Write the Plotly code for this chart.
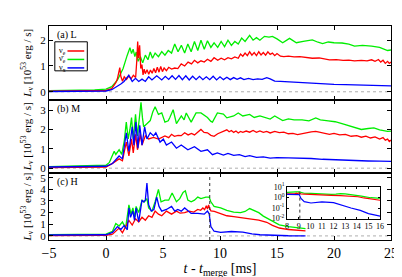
import plotly.graph_objects as go
from plotly.subplots import make_subplots

# ---------------- data ----------------
# Panel (a) L
a_green_t = [-5, -3, -1, 0, 0.5, 1.0, 1.5, 1.85, 2.1, 2.24, 2.38, 2.53, 2.65, 2.82, 3.02, 3.22, 3.45, 3.68, 3.88, 4.08, 4.31, 4.6, 4.89, 5.17, 5.46, 5.75, 6.03, 6.32, 6.61, 6.9, 7.18, 7.47, 7.76, 8.05, 8.33, 8.62, 8.9, 9.2, 9.48, 9.8, 10.1, 10.4, 10.7, 11.0, 11.3, 11.6, 11.9, 12.2, 12.6, 12.9, 13.2, 13.5, 13.9, 14.3, 14.6, 15.0, 15.5, 16.1, 16.7, 17.3, 18.1, 18.6, 19.0, 19.5, 20.0, 20.7, 21.3, 21.8, 22.5, 23.3, 24.0, 24.7, 25.0]
a_green_v = [0.04, 0.05, 0.07, 0.1, 0.2, 0.45, 0.9, 1.4, 1.71, 1.48, 1.65, 1.36, 1.54, 1.18, 1.36, 1.12, 1.42, 1.24, 1.54, 1.3, 1.5, 1.36, 1.56, 1.42, 1.6, 1.5, 1.85, 1.55, 1.8, 1.5, 1.85, 1.55, 1.95, 1.6, 2.0, 1.65, 1.98, 1.72, 1.9, 1.72, 1.95, 1.75, 2.0, 1.8, 1.95, 1.85, 2.08, 1.95, 2.19, 2.0, 2.1, 2.0, 2.15, 2.12, 2.15, 2.05, 1.9, 2.07, 1.9, 1.95, 2.01, 1.92, 1.87, 1.93, 1.9, 1.89, 1.85, 1.77, 1.8, 1.77, 1.72, 1.6, 1.62]

a_red_t = [-5, -2, 0, 0.5, 0.86, 1.0, 1.1, 1.21, 1.3, 1.45, 1.6, 1.8, 2.0, 2.2, 2.4, 2.6, 2.7, 2.78, 2.85, 2.95, 3.05, 3.15, 3.25, 3.35, 3.45, 3.6, 3.75, 3.9, 4.05, 4.2, 4.35, 4.5, 4.65, 4.8, 4.95, 5.1, 5.3, 5.5, 5.75, 6.03, 6.3, 6.6, 6.9, 7.2, 7.5, 7.76, 8.05, 8.33, 8.62, 8.9, 9.2, 9.48, 9.8, 10.1, 10.4, 10.7, 11.0, 11.3, 11.6, 11.8, 12.0, 12.2, 12.4, 12.6, 12.8, 13.0, 13.2, 13.4, 13.6, 13.8, 14.0, 14.2, 14.4, 14.6, 14.8, 15.0, 15.3, 15.6, 16.0, 16.5, 17.0, 17.5, 18.1, 18.7, 19.2, 19.6, 20.2, 20.8, 21.3, 21.8, 22.4, 22.9, 23.3, 23.6, 23.9, 24.1, 24.3, 24.5, 24.7, 24.85, 25.0]
a_red_v = [0.02, 0.03, 0.05, 0.12, 0.35, 0.5, 0.75, 0.94, 0.6, 0.41, 0.58, 0.48, 0.62, 0.5, 0.64, 0.55, 1.2, 1.95, 1.3, 1.8, 0.9, 1.05, 0.65, 0.88, 0.7, 0.85, 0.68, 0.84, 0.72, 0.9, 0.74, 0.95, 0.76, 0.98, 0.78, 0.92, 0.82, 0.95, 0.88, 0.92, 0.9, 1.08, 1.0, 1.15, 1.08, 1.22, 1.12, 1.2, 1.15, 1.26, 1.18, 1.32, 1.22, 1.3, 1.24, 1.32, 1.28, 1.35, 1.3, 1.46, 1.38, 1.5, 1.4, 1.55, 1.42, 1.52, 1.4, 1.55, 1.43, 1.52, 1.42, 1.55, 1.45, 1.5, 1.4, 1.48, 1.38, 1.36, 1.38, 1.35, 1.36, 1.33, 1.3, 1.31, 1.27, 1.24, 1.25, 1.22, 1.23, 1.2, 1.22, 1.2, 1.24, 1.18, 1.25, 1.15, 1.22, 1.1, 1.18, 1.1, 1.15]

a_blue_t = [-5, 0, 0.5, 1.0, 1.3, 1.58, 1.8, 2.0, 2.3, 2.59, 2.87, 3.16, 3.45, 3.74, 4.03, 4.45, 4.89, 5.2, 5.5, 5.8, 6.1, 6.4, 6.7, 7.0, 7.3, 7.6, 7.9, 8.2, 8.5, 8.8, 9.1, 9.4, 9.7, 10.0, 10.3, 10.6, 10.9, 11.2, 11.5, 11.8, 12.1, 12.5, 12.9, 13.3, 13.7, 14.1, 14.4, 14.8, 15.3, 16.0, 17.0, 18.0, 19.0, 20.0, 21.0, 22.0, 23.0, 24.0, 25.0]
a_blue_v = [0.01, 0.03, 0.08, 0.2, 0.3, 0.4, 0.55, 0.64, 0.4, 0.52, 0.4, 0.49, 0.4, 0.58, 0.46, 0.62, 0.46, 0.6, 0.48, 0.62, 0.48, 0.63, 0.47, 0.62, 0.46, 0.6, 0.47, 0.6, 0.47, 0.58, 0.47, 0.6, 0.46, 0.58, 0.47, 0.56, 0.47, 0.55, 0.48, 0.54, 0.47, 0.52, 0.47, 0.5, 0.48, 0.55, 0.5, 0.41, 0.4, 0.38, 0.36, 0.33, 0.31, 0.29, 0.28, 0.27, 0.25, 0.24, 0.23]

# Panel (b) M
b_green_t = [-5, -2, 0, 0.3, 0.72, 0.86, 1.15, 1.38, 1.6, 1.78, 1.95, 2.1, 2.24, 2.39, 2.59, 2.76, 2.9, 3.07, 3.2, 3.3, 3.59, 3.88, 4.1, 4.31, 4.6, 4.89, 5.17, 5.46, 5.6, 5.89, 6.18, 6.61, 6.85, 7.04, 7.47, 7.9, 8.33, 8.9, 9.2, 9.34, 9.77, 10.3, 10.6, 11.2, 11.6, 12.0, 12.6, 13.0, 13.5, 14.0, 14.4, 14.8, 15.5, 16.0, 16.5, 17.2, 17.8, 18.4, 18.8, 19.5, 20.1, 20.7, 21.3, 22.0, 22.4, 23.0, 23.5, 24.0, 24.7, 25.0]
b_green_v = [0.08, 0.1, 0.15, 0.3, 0.87, 0.71, 0.95, 0.71, 1.4, 2.38, 1.51, 2.0, 2.62, 1.51, 2.78, 1.67, 2.6, 3.41, 2.6, 2.14, 2.3, 2.46, 2.9, 3.17, 2.78, 2.86, 2.38, 2.45, 2.62, 3.02, 2.3, 2.7, 2.5, 2.85, 2.38, 2.86, 2.86, 2.62, 2.42, 2.38, 2.86, 2.8, 2.6, 2.7, 2.85, 2.7, 2.78, 2.62, 2.7, 2.62, 2.54, 2.7, 2.46, 2.55, 2.5, 2.5, 2.45, 2.6, 2.5, 2.45, 2.4, 2.3, 2.2, 2.05, 2.0, 2.05, 2.08, 1.98, 1.9, 1.92]

b_red_t = [-5, 0, 0.57, 0.9, 1.15, 1.44, 1.6, 1.78, 2.01, 2.24, 2.39, 2.59, 2.76, 3.02, 3.16, 3.45, 3.74, 4.17, 4.6, 5.17, 5.5, 5.75, 6.0, 6.32, 6.6, 6.9, 7.2, 7.5, 7.76, 8.0, 8.33, 8.6, 8.9, 9.2, 9.48, 9.8, 10.1, 10.4, 10.6, 10.8, 11.0, 11.2, 11.4, 11.6, 11.8, 12.0, 12.3, 12.6, 12.9, 13.2, 13.5, 13.8, 14.1, 14.4, 14.8, 15.2, 15.6, 16.0, 16.4, 16.8, 17.2, 17.6, 18.0, 18.4, 18.8, 19.2, 19.6, 20.0, 20.5, 21.0, 21.5, 22.0, 22.4, 22.8, 23.2, 23.6, 24.0, 24.3, 24.5, 24.7, 24.85, 25.0]
b_red_v = [0.03, 0.06, 0.25, 0.4, 0.48, 0.38, 0.8, 1.35, 0.63, 1.51, 0.79, 1.75, 0.95, 1.75, 1.19, 1.67, 1.51, 1.59, 1.5, 1.67, 1.58, 1.75, 1.65, 1.7, 1.68, 1.83, 1.72, 1.8, 1.72, 1.85, 2.0, 1.85, 1.83, 1.7, 1.65, 1.78, 1.85, 1.92, 1.98, 1.88, 1.95, 1.85, 1.92, 1.82, 1.9, 1.85, 1.92, 1.86, 1.95, 1.85, 1.93, 1.85, 1.9, 1.82, 1.9, 1.84, 1.86, 1.78, 1.8, 1.74, 1.8, 1.83, 1.88, 1.9, 1.84, 1.8, 1.75, 1.8, 1.72, 1.75, 1.65, 1.68, 1.6, 1.66, 1.56, 1.62, 1.5, 1.58, 1.45, 1.5, 1.38, 1.45]

b_blue_t = [-5, 0, 0.57, 1.0, 1.15, 1.44, 1.6, 1.78, 2.01, 2.3, 2.45, 2.62, 2.8, 2.96, 3.16, 3.39, 3.59, 3.88, 4.17, 4.37, 4.74, 5.03, 5.3, 5.75, 6.18, 6.6, 7.18, 7.76, 8.33, 8.9, 9.34, 9.77, 10.3, 10.7, 11.2, 11.7, 12.2, 12.6, 13.2, 13.8, 14.4, 15.0, 16.0, 17.0, 18.0, 19.0, 20.0, 21.0, 22.0, 23.0, 24.0, 25.0]
b_blue_v = [0.06, 0.1, 0.24, 0.55, 0.63, 0.48, 1.2, 1.83, 0.87, 2.14, 1.19, 2.38, 1.03, 2.22, 1.19, 2.14, 1.51, 1.83, 1.67, 1.83, 1.35, 1.5, 1.19, 1.35, 1.03, 1.2, 0.95, 1.11, 0.87, 0.95, 0.7, 0.79, 0.68, 0.76, 0.66, 0.7, 0.6, 0.65, 0.56, 0.58, 0.52, 0.55, 0.53, 0.52, 0.5, 0.46, 0.43, 0.41, 0.39, 0.37, 0.36, 0.35]

# Panel (c) H
c_green_t = [-5, -2, 0, 0.57, 0.86, 1.15, 1.44, 1.72, 2.01, 2.2, 2.36, 2.53, 2.64, 2.87, 3.16, 3.35, 3.59, 3.74, 4.03, 4.31, 4.6, 4.83, 5.17, 5.5, 5.8, 6.18, 6.47, 6.76, 6.96, 7.18, 7.47, 7.76, 8.05, 8.33, 8.76, 9.05, 9.2, 9.48, 10.06, 10.6, 11.2, 11.8, 12.2, 12.6, 13.0, 13.4, 13.8, 14.4, 15.2, 16.0, 16.8, 17.5]
c_green_v = [0.1, 0.12, 0.15, 0.4, 1.07, 0.85, 1.2, 0.67, 2.67, 1.87, 2.4, 1.6, 2.53, 2.0, 3.07, 2.9, 3.2, 2.4, 2.13, 2.93, 3.99, 2.93, 3.07, 3.07, 3.68, 2.93, 3.2, 3.73, 3.87, 3.07, 2.93, 3.07, 3.33, 3.2, 3.33, 3.33, 2.93, 2.53, 2.4, 2.2, 2.05, 2.0, 2.1, 2.35, 2.2, 2.0, 1.7, 1.35, 0.95, 0.8, 0.68, 0.62]

c_red_t = [-5, 0, 0.57, 0.86, 1.15, 1.44, 1.72, 2.01, 2.3, 2.59, 2.87, 3.16, 3.45, 3.74, 4.03, 4.31, 4.6, 4.89, 5.3, 5.75, 6.18, 6.5, 6.9, 7.3, 7.7, 8.05, 8.3, 8.5, 8.65, 8.8, 8.9, 9.0, 9.1, 9.2, 9.5, 9.77, 10.2, 10.6, 11.2, 11.8, 12.6, 13.4, 14.1, 14.6, 15.2, 16.0, 16.8, 17.5]
c_red_v = [0.03, 0.05, 0.15, 0.4, 0.67, 0.27, 0.8, 1.33, 0.93, 1.47, 1.2, 1.6, 1.35, 1.73, 1.6, 2.13, 1.87, 1.73, 2.13, 1.87, 2.13, 1.95, 2.0, 2.13, 2.05, 2.27, 2.2, 2.4, 2.25, 2.6, 2.3, 2.65, 2.35, 2.15, 2.1, 2.0, 1.85, 1.73, 1.65, 1.6, 1.47, 1.35, 1.17, 0.9, 0.68, 0.55, 0.47, 0.43]

c_blue_t = [-5, 0, 0.57, 1.0, 1.3, 1.6, 1.87, 2.01, 2.15, 2.36, 2.5, 2.64, 2.87, 3.16, 3.3, 3.45, 3.59, 3.74, 3.97, 4.2, 4.45, 4.65, 4.89, 5.3, 5.75, 6.03, 6.3, 6.6, 6.9, 7.18, 7.47, 8.05, 8.62, 8.9, 9.05, 9.2, 9.48, 10.06, 11.0, 12.0, 12.8, 13.5, 14.3, 15.0, 16.0, 17.5]
c_blue_v = [0.08, 0.1, 0.3, 0.8, 0.55, 0.9, 0.53, 2.4, 1.6, 2.13, 1.33, 2.4, 1.2, 3.07, 2.93, 3.07, 4.53, 2.67, 2.13, 2.27, 3.33, 2.53, 2.13, 2.27, 2.53, 2.13, 2.27, 2.13, 2.4, 2.13, 1.93, 1.93, 1.87, 2.13, 1.9, 0.8, 0.4, 0.3, 0.38, 0.33, 0.17, 0.1, 0.06, 0.03, 0.017, 0.01]

t_collapse = 9.1   # dashed vertical marker in panel (c)

x_ticks = [-5, 0, 5, 10, 15, 20, 25]
inset_x_ticks = [8, 9, 10, 11, 12, 13, 14, 15, 16]
inset_y_ticks = [0.01, 0.1, 1, 10]
inset_y_labels = ["10<sup>-2</sup>", "10<sup>-1</sup>", "10<sup>0</sup>", "10<sup>1</sup>"]
panel_labels = ["(a) L", "(b) M", "(c) H"]
legend_labels = ["ν<sub>e</sub>", "ν̄<sub>e</sub>", "ν<sub>x</sub>"]

RED, GREEN, BLUE = "#ff0000", "#00ee00", "#0000ff"
FONT = "Liberation Serif"

fig = make_subplots(rows=3, cols=1, shared_xaxes=True, vertical_spacing=0,
                    row_heights=[79, 79, 72])

panels = [
    (a_red_t, a_red_v, a_green_t, a_green_v, a_blue_t, a_blue_v),
    (b_red_t, b_red_v, b_green_t, b_green_v, b_blue_t, b_blue_v),
    (c_red_t, c_red_v, c_green_t, c_green_v, c_blue_t, c_blue_v),
]
for i, (rt, rv, gt, gv, bt, bv) in enumerate(panels):
    r = i + 1
    fig.add_trace(go.Scatter(x=gt, y=gv, mode="lines", line=dict(color=GREEN, width=1.3), showlegend=False), row=r, col=1)
    fig.add_trace(go.Scatter(x=rt, y=rv, mode="lines", line=dict(color=RED, width=1.3), showlegend=False), row=r, col=1)
    fig.add_trace(go.Scatter(x=bt, y=bv, mode="lines", line=dict(color=BLUE, width=1.3), showlegend=False), row=r, col=1)

# inset (log scale), same data of panel (c)
for t, v, col in [(c_green_t, c_green_v, GREEN), (c_red_t, c_red_v, RED), (c_blue_t, c_blue_v, BLUE)]:
    fig.add_trace(go.Scatter(x=t, y=v, mode="lines", line=dict(color=col, width=1.2),
                             xaxis="x4", yaxis="y4", showlegend=False))

axis_common = dict(showline=True, linecolor="black", linewidth=1, mirror="ticks",
                   ticks="inside", ticklen=4, tickcolor="black", showgrid=False, zeroline=False)

y_ranges = [[-0.3, 2.55], [-0.25, 3.55], [-0.35, 5.4]]
y_dtick = [1, 1, 1]
ytitle = "<i>L</i><sub>ν</sub> [10<sup>53</sup> erg / s]"
for i in range(3):
    r = i + 1
    fig.update_yaxes(range=y_ranges[i], dtick=y_dtick[i], tickfont=dict(size=11, family=FONT, color="black"),
                     title=dict(text=ytitle, font=dict(size=11, family=FONT, color="black"), standoff=6),
                     **axis_common, row=r, col=1)
    fig.update_xaxes(range=[-5, 25], tickvals=x_ticks, **axis_common, row=r, col=1)
fig.update_xaxes(tickfont=dict(size=14, family=FONT, color="black"),
                 title=dict(text="<i>t</i> - <i>t</i><sub>merge</sub> [ms]",
                            font=dict(size=14, family=FONT, color="black"), standoff=2),
                 row=3, col=1)

fig.update_layout(
    xaxis4=dict(domain=[0.696, 0.968], anchor="y4", range=[8, 16], tickvals=inset_x_ticks,
                tickfont=dict(size=8, family=FONT, color="black"), ticklen=2, **{k: v for k, v in axis_common.items() if k != "ticklen"}),
    yaxis4=dict(domain=[0.1, 0.248], anchor="x4", type="log", range=[-2, 1],
                tickvals=inset_y_ticks, ticktext=inset_y_labels,
                tickfont=dict(size=8, family=FONT, color="black"), ticklen=2, **{k: v for k, v in axis_common.items() if k != "ticklen"}),
)

shapes = []
# dotted zero lines
for yref in ["y", "y2", "y3"]:
    xr = "x domain" if yref == "y" else yref.replace("y", "x") + " domain"
    shapes.append(dict(type="line", xref=xr, yref=yref, x0=0, x1=1, y0=0, y1=0,
                       line=dict(color="#999999", width=0.8, dash="dot"), layer="below"))
# collapse markers
shapes.append(dict(type="line", xref="x3", yref="y3 domain", x0=t_collapse, x1=t_collapse, y0=0, y1=1,
                   line=dict(color="#333333", width=1, dash="dot")))
shapes.append(dict(type="line", xref="x4", yref="y4 domain", x0=t_collapse, x1=t_collapse, y0=0, y1=1,
                   line=dict(color="#333333", width=1, dash="dot")))
# custom legend box in panel (a)
shapes.append(dict(type="rect", xref="x domain", yref="y domain", x0=0.017, x1=0.112, y0=0.39, y1=0.785,
                   line=dict(color="black", width=1), fillcolor="white"))
leg_y = [0.66, 0.545, 0.43]
for yy, col in zip(leg_y, [RED, GREEN, BLUE]):
    shapes.append(dict(type="line", xref="x domain", yref="y domain", x0=0.054, x1=0.103, y0=yy, y1=yy,
                       line=dict(color=col, width=1.5)))
# inset background
shapes.append(dict(type="rect", xref="x4 domain", yref="y4 domain", x0=0, x1=1, y0=0, y1=1,
                   line=dict(width=0), fillcolor="white", layer="below"))

annotations = []
for i, lab in enumerate(panel_labels):
    yd = "y domain" if i == 0 else f"y{i+1} domain"
    xd = "x domain" if i == 0 else f"x{i+1} domain"
    annotations.append(dict(text=lab, xref=xd, yref=yd, x=0.018, y=0.98, xanchor="left", yanchor="top",
                            showarrow=False, font=dict(size=10, family=FONT, color="black")))
for yy, lab in zip(leg_y, legend_labels):
    annotations.append(dict(text=lab, xref="x domain", yref="y domain", x=0.024, y=yy, xanchor="left",
                            yanchor="middle", showarrow=False, font=dict(size=8, family=FONT, color="black")))

fig.update_layout(
    width=402, height=277,
    margin=dict(l=41, r=12, t=12, b=35),
    plot_bgcolor="white", paper_bgcolor="white",
    shapes=shapes, annotations=annotations,
    font=dict(family=FONT, color="black"),
    showlegend=False,
)

fig.write_html("out.html")
